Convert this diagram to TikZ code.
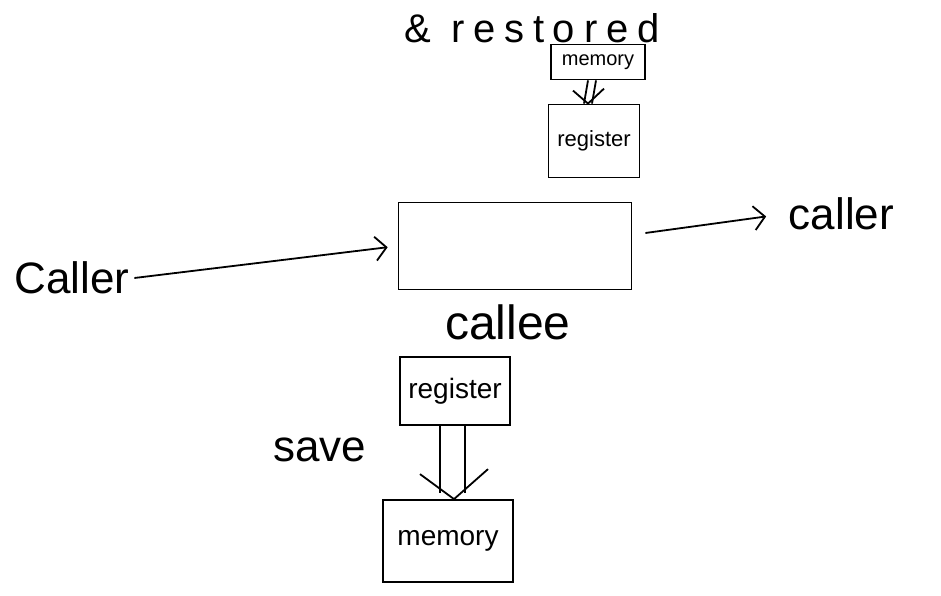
\documentclass[tikz,border=0pt]{standalone}
\usepackage{fontspec}
\setmainfont{Liberation Sans}
\usepackage{tikz}
\usetikzlibrary{arrows.meta}

\begin{document}
\begin{tikzpicture}[x=1pt, y=-1pt, line width=1.8pt,
					>={Straight Barb[length=11pt, width=24pt]},
					box/.style={rectangle, draw, inner sep=0pt},
					word/.style={inner sep=4pt, font=\fontsize{44}{48}\selectfont},
					small/.style={font=\fontsize{20}{22}\selectfont},
					big/.style={font=\fontsize{28}{30}\selectfont},
					arrow/.style={->}
				]
					\useasboundingbox (0,0) rectangle (941,596);
					
					% Nodes
					\node[word, font=\fontsize{40}{44}\selectfont] (restored) at (532,28) {\addfontfeature{LetterSpace=22}\& restored};
					\node[box, small, minimum width=94pt, minimum height=35pt] (topmem) at (598,62) {memory};
					\node[box, small, font=\fontsize{22}{24}\selectfont, minimum width=91pt, minimum height=73pt] (topreg) at (594,141) {register};
					\node[box, minimum width=233pt, minimum height=87pt] (callee) at (515,246) {};
					\node[word, font=\fontsize{48}{52}\selectfont] (calleelbl) at (508,322) {callee};
					\node[word] (caller1) at (72,278) {Caller};
					\node[word, anchor=west] (caller2) at (784,214) {caller};
					\node[box, big, minimum width=110pt, minimum height=68pt] (botreg) at (455,391) {register};
					\node[box, big, minimum width=130pt, minimum height=82pt] (botmem) at (448,541) {memory};
					\node[word] (save) at (320,450) {save};
					
					% Arrows
					\draw[arrow, shorten >=10pt] (caller1.east) -- (callee.west);
					\draw[arrow, shorten >=18pt] ([xshift=13pt, yshift=13pt]callee.east) -- (caller2.west);
					% restore: memory => register
					\draw ([xshift=-10pt]topmem.south) -- ([xshift=-10pt]topreg.north);
					\draw ([xshift=-2pt]topmem.south) -- ([xshift=-2pt]topreg.north);
					\draw ([xshift=-21pt, yshift=13pt]topreg.north) -- ([xshift=-6pt]topreg.north) -- ([xshift=10pt, yshift=15pt]topreg.north);
					% save: register => memory
					\draw ([xshift=-15pt]botreg.south) -- ([xshift=-8pt, yshift=6pt]botmem.north);
					\draw ([xshift=10pt]botreg.south) -- ([xshift=17pt, yshift=6pt]botmem.north);
					\draw ([xshift=-28pt, yshift=25pt]botmem.north) -- ([xshift=6pt]botmem.north) -- ([xshift=40pt, yshift=30pt]botmem.north);
				\end{tikzpicture}
\end{document}
